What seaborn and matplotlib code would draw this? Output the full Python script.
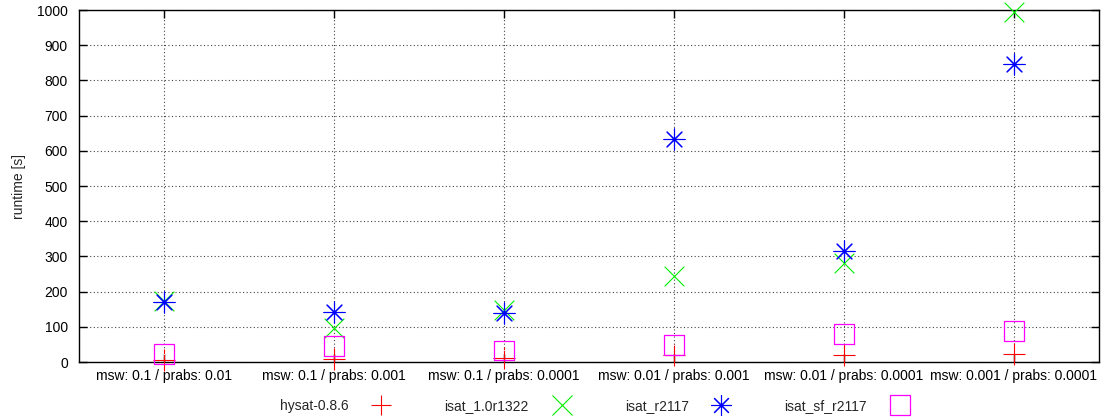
import matplotlib
matplotlib.use("Agg")
import matplotlib.pyplot as plt
from matplotlib.lines import Line2D
import pandas as pd
import seaborn as sns

categories = ["msw: 0.1 / prabs: 0.01", "msw: 0.1 / prabs: 0.001",
              "msw: 0.1 / prabs: 0.0001", "msw: 0.01 / prabs: 0.001",
              "msw: 0.01 / prabs: 0.0001", "msw: 0.001 / prabs: 0.0001"]
hysat = [5, 8, 10, 20, 20, 23]
isat_1 = [172, 98, 147, 243, 281, 993]
isat_r2117 = [170, 141, 139, 633, 316, 846]
isat_sf = [23, 45, 33, 48, 80, 88]

series_names = ["hysat-0.8.6", "isat_1.0r1322", "isat_r2117", "isat_sf_r2117"]
series_vals = [hysat, isat_1, isat_r2117, isat_sf]
colors = ["#ff0000", "#00ee00", "#0000ff", "#ff00ff"]
markers = ["+", "x", (8, 2, 0), "s"]
sizes = [240, 200, 230, 200]

sns.set_style("white")
plt.rcParams["font.family"] = ["Liberation Sans", "DejaVu Sans"]
fs = 10

df = pd.DataFrame({
    "cat": categories * 4,
    "runtime": sum(series_vals, []),
    "solver": [n for n in series_names for _ in categories],
})

fig = plt.figure(figsize=(11.03, 4.2), dpi=100)
ax = fig.add_axes([79 / 1103, 1 - 362 / 420, 1020 / 1103, 352 / 420])

handles = []
for name, col, mk, sz in zip(series_names, colors, markers, sizes):
    sub = df[df.solver == name]
    if mk == "s":
        sns.scatterplot(data=sub, x="cat", y="runtime", marker=mk, s=sz, ax=ax,
                        color=col, linewidth=0.9, clip_on=False, zorder=3)
        pts = ax.collections[-1]
        pts.set_facecolor("none")
        pts.set_edgecolor(col)
        # tiny dot in the middle like gnuplot
        sns.scatterplot(data=sub, x="cat", y="runtime", marker=".", s=2, ax=ax,
                        color=col, linewidth=0, clip_on=False, zorder=3)
        h = Line2D([], [], marker="s", markersize=14, markerfacecolor="none",
                   markeredgecolor=col, linestyle="none", markeredgewidth=0.9)
    else:
        sns.scatterplot(data=sub, x="cat", y="runtime", marker=mk, s=sz, ax=ax,
                        color=col, linewidth=0.8, clip_on=False, zorder=3)
        h = Line2D([], [], marker=mk, markersize=15, color=col,
                   linestyle="none", markeredgewidth=0.8)
    handles.append(h)

ax.set_xlim(-0.5, 5.5)
ax.set_ylim(0, 1000)
ax.set_yticks(range(0, 1001, 100))
ax.set_xlabel("")
ax.set_ylabel("runtime [s]", fontsize=fs, labelpad=8)

ax.grid(True, linestyle=(0, (1, 2.2)), color="#444444", linewidth=0.8)
ax.set_axisbelow(True)
for sp in ax.spines.values():
    sp.set_color("black")
    sp.set_linewidth(1.0)
    sp.set_visible(True)
ax.tick_params(direction="in", length=6, width=1.0, top=True, right=True,
               bottom=True, left=True, labelsize=fs, colors="black", pad=5)
ax.tick_params(axis="y", pad=8)

ax.legend(handles, series_names, loc="upper center", bbox_to_anchor=(0.506, -0.07),
          ncol=4, frameon=False, markerfirst=False, fontsize=fs,
          handletextpad=1.6, columnspacing=3.8, handlelength=1.5)

fig.savefig("out.png", dpi=100)
